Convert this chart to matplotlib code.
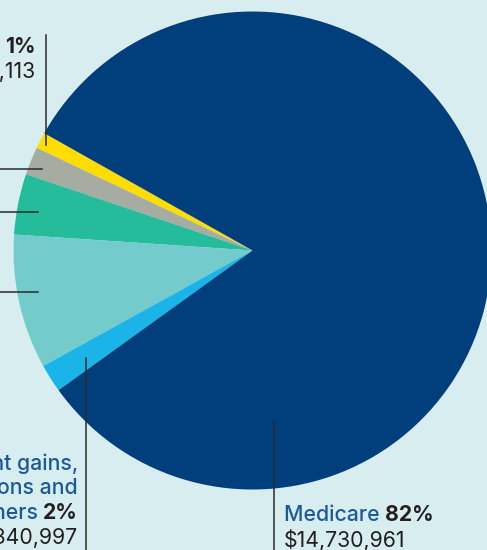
import matplotlib
matplotlib.use('Agg')
import matplotlib.pyplot as plt

# slice shares (percent), counter-clockwise from the yellow slice
slices = ['Other', 'Grants', 'Donations', 'Fees',
          'Investment gains, contributions and others', 'Medicare']
shares = [1.1, 1.9, 4.1, 9.1, 1.9, 81.9]
colors = ['#ffdd00', '#a7aca2', '#24bc9a', '#74cbcc', '#1ab4e8', '#003f7c']

W, H = 487, 550
BG = '#d7edf0'
NAME_C = '#1b5a97'
NUM_C = '#231f20'

plt.rcParams['font.family'] = ['Inter', 'DejaVu Sans']

fig = plt.figure(figsize=(W / 100, H / 100), dpi=100, facecolor=BG)
ax = fig.add_axes([0, 0, 1, 1])
ax.set_facecolor(BG)


def py(y):
    return H - y


ax.pie(shares, colors=colors, startangle=150.6, counterclock=True,
       center=(252.5, py(250.5)), radius=239, frame=True,
       wedgeprops=dict(linewidth=0))
ax.set_xlim(0, W)
ax.set_ylim(0, H)
ax.set_aspect('equal')
ax.axis('off')

# leader lines
lc = '#2b2b2b'
lw = 1.1
ax.plot([45.5, 45.5], [py(35), py(145)], color=lc, lw=lw)
ax.plot([0, 42], [py(169), py(169)], color=lc, lw=lw)
ax.plot([0, 37.5], [py(211.5), py(211.5)], color=lc, lw=lw)
ax.plot([0, 37.5], [py(291.5), py(291.5)], color=lc, lw=lw)
ax.plot([86, 86], [py(358), py(552)], color=lc, lw=lw)
ax.plot([274, 274], [py(421), py(552)], color=lc, lw=lw)

fs = 15.3
renderer = fig.canvas.get_renderer()


def width_of(t):
    bb = t.get_window_extent(renderer=renderer)
    return bb.width  # axes span whole figure at 1 px per unit


def right_line(x, y, parts):
    # parts drawn right to left
    for text, color, weight in reversed(parts):
        t = ax.text(x, py(y), text, color=color, fontsize=fs, fontweight=weight,
                    ha='right', va='baseline')
        x -= width_of(t)


def left_line(x, y, parts):
    for text, color, weight in parts:
        t = ax.text(x, py(y), text, color=color, fontsize=fs, fontweight=weight,
                    ha='left', va='baseline')
        x += width_of(t)


# yellow slice label
right_line(36, 53, [('Other ', NAME_C, 'medium'), ('1%', NUM_C, 'bold')])
right_line(36, 78, [('$239,113', NUM_C, 'normal')])

# blue slice label
right_line(78, 470, [('Investment gains,', NAME_C, 'medium')])
right_line(78, 494, [('contributions and', NAME_C, 'medium')])
right_line(78, 519, [('others ', NAME_C, 'medium'), ('2%', NUM_C, 'bold')])
right_line(78, 544, [('$340,997', NUM_C, 'normal')])

# Medicare label
left_line(284, 521, [('Medicare ', NAME_C, 'medium'), ('82%', NUM_C, 'bold')])
left_line(284, 547, [('$14,730,961', NUM_C, 'normal')])

fig.savefig('out.png', dpi=100, facecolor=BG)
